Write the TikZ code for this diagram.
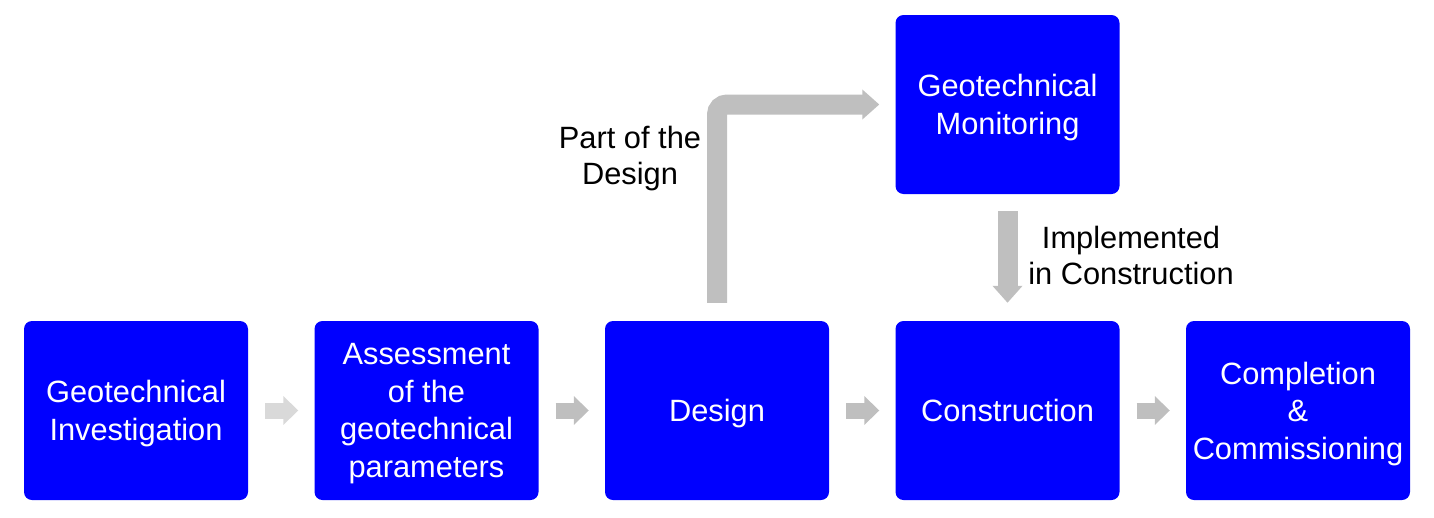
\documentclass[tikz,border=0pt]{standalone}
\usepackage{fontspec}
\setmainfont{Liberation Sans}
\usetikzlibrary{arrows.meta}

\definecolor{boxblue}{HTML}{0000FF}
\definecolor{arrowgray}{HTML}{BFBFBF}
\definecolor{lightarrow}{HTML}{D9D9D9}

\begin{document}
\begin{tikzpicture}[x=1pt,y=-1pt,
  stage/.style={fill=boxblue, text=white, rounded corners=8pt, minimum width=224pt,
    minimum height=179pt, inner sep=0pt, align=center, font=\fontsize{30.8}{37.5}\selectfont,
    text depth=0pt},
  note/.style={align=center, font=\fontsize{30.8}{36}\selectfont},
  flow/.style={draw=arrowgray, line width=16pt, -{Triangle[length=15pt,width=28pt]},
    shorten <=17pt, shorten >=16pt},
  bigflow/.style={draw=arrowgray, line width=20pt, -{Triangle[length=17pt,width=29pt]},
    rounded corners=10pt, shorten <=18pt, shorten >=16pt}]
\useasboundingbox (0,0) rectangle (1434,517);

\node[stage] (inv) at (136,410.5) {Geotechnical\\Investigation};
\node[stage] (asm) at (426.5,410.5) {Assessment\\of the\\geotechnical\\parameters};
\node[stage] (des) at (717,410.5) {Design};
\node[stage] (con) at (1007.5,410.5) {Construction};
\node[stage] (com) at (1298,410.5) {Completion\\\&\\Commissioning};
\node[stage] (mon) at (1007.5,104.5) {Geotechnical\\Monitoring};

\draw[flow, draw=lightarrow] (inv) -- (asm);
\draw[flow] (asm) -- (des);
\draw[flow] (des) -- (con);
\draw[flow] (con) -- (com);

\draw[bigflow] (des.north) |- (mon.west);
\draw[bigflow, shorten <=17pt, shorten >=18pt] (mon.south) -- (con.north);

\node[note] (partof) at (630,159) {Part of the\\Design};
\node[note] (impl) at (1131,255) {Implemented\\in Construction};
\end{tikzpicture}
\end{document}
